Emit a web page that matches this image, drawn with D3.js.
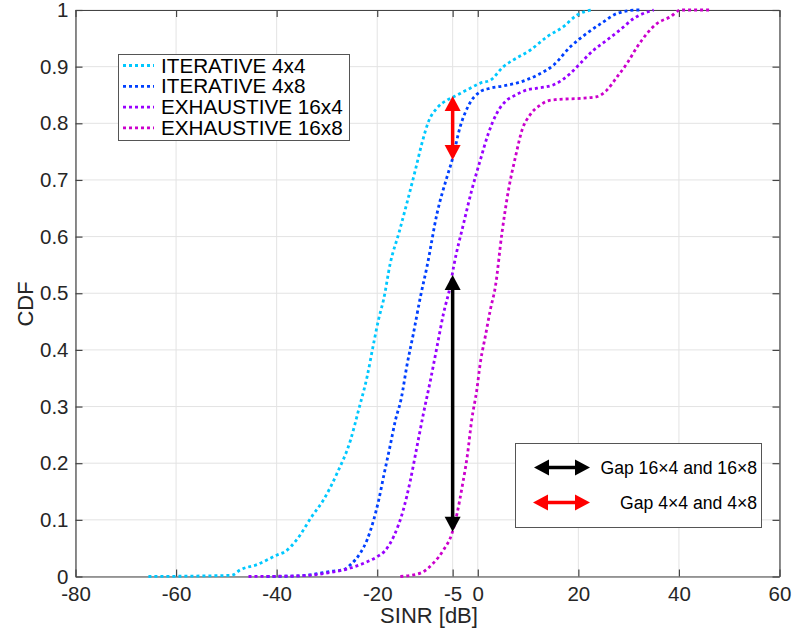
<!DOCTYPE html>
<html>
<head>
<meta charset="utf-8">
<script src="https://cdn.jsdelivr.net/npm/d3@7/dist/d3.min.js"></script>
<style>
  body { margin: 0; background: #fff; }
  svg { display: block; font-family: "Liberation Sans", Arial, Helvetica, sans-serif; }
</style>
</head>
<body>
<svg id="chart" width="794" height="634"></svg>
<script>
// Empirical CDFs of SINR [dB] for the four beam-search schemes
const iter4x4X = [-65.5, -49, -47.2, -43.9, -39.9, -38.3, -36, -33, -30.7, -28, -25.3, -23.7, -22, -20.7, -19.7, -18.7, -17.4, -15.7, -14.1, -12.4, -11.1, -9.8, -8.1, -6.1, -4.5, -2.8, -1.5, 0.5, 2.5, 5.1, 7.1, 10.4, 13.8, 17.1, 19.7, 22.7];
const iter4x4Y = [0, 0.002, 0.012, 0.021, 0.038, 0.044, 0.065, 0.106, 0.135, 0.182, 0.241, 0.294, 0.353, 0.412, 0.455, 0.49, 0.553, 0.606, 0.659, 0.718, 0.765, 0.803, 0.827, 0.841, 0.848, 0.856, 0.862, 0.871, 0.876, 0.9, 0.912, 0.929, 0.953, 0.971, 0.991, 1];

const iter4x8X = [-42, -36, -33.3, -29.3, -26.7, -25.3, -23.4, -22, -20.7, -19.7, -18.7, -17.4, -16.4, -15.2, -14.1, -12.8, -11.4, -10.1, -8.1, -6.1, -5.1, -3.5, -1.8, 0.5, 2.5, 5.1, 8.5, 11.8, 15.1, 18.4, 21.7, 25.0, 27.7, 31.7, 32.5];
const iter4x8Y = [0, 0.001, 0.003, 0.009, 0.012, 0.021, 0.041, 0.065, 0.1, 0.135, 0.178, 0.232, 0.275, 0.315, 0.372, 0.429, 0.494, 0.547, 0.641, 0.706, 0.735, 0.794, 0.832, 0.856, 0.862, 0.866, 0.873, 0.885, 0.903, 0.935, 0.959, 0.979, 0.994, 1, 1];

const exh16x4X = [-45.6, -36, -29.3, -25.3, -22, -20, -18.5, -16.7, -14.8, -13.4, -12.1, -10.8, -9.4, -8.1, -6.8, -5.5, -4.8, -2.8, -1.2, 0.5, 2.1, 3.8, 5.8, 7.1, 9.8, 11.8, 15.1, 18.4, 20.4, 23.0, 25.7, 28.3, 31.0, 35.0];
const exh16x4Y = [0, 0.001, 0.007, 0.015, 0.026, 0.035, 0.045, 0.071, 0.118, 0.17, 0.229, 0.288, 0.347, 0.406, 0.465, 0.512, 0.547, 0.624, 0.682, 0.735, 0.782, 0.818, 0.841, 0.848, 0.859, 0.862, 0.868, 0.888, 0.906, 0.929, 0.947, 0.965, 0.985, 1];

const exh16x8X = [-15.4, -11.4, -8.8, -6.8, -5.1, -4.1, -3.1, -2.1, -1.2, -0.2, 0.5, 1.5, 2.5, 3.5, 4.8, 6.1, 7.5, 8.8, 10.4, 12.4, 14.1, 15.7, 20.4, 23.7, 25.7, 27.7, 29.7, 31.7, 33.7, 35.6, 38.3, 40.3, 46.2];
const exh16x8Y = [0, 0.006, 0.024, 0.047, 0.077, 0.112, 0.159, 0.212, 0.277, 0.329, 0.377, 0.424, 0.471, 0.512, 0.606, 0.682, 0.741, 0.788, 0.815, 0.832, 0.84, 0.842, 0.844, 0.847, 0.859, 0.882, 0.906, 0.935, 0.959, 0.976, 0.988, 1, 1];

const seriesNames = ["ITERATIVE 4x4", "ITERATIVE 4x8", "EXHAUSTIVE 16x4", "EXHAUSTIVE 16x8"];
const seriesColors = ["#00c8ff", "#0040ff", "#9900ff", "#cc00cc"];
const seriesX = [iter4x4X, iter4x8X, exh16x4X, exh16x8X];
const seriesY = [iter4x4Y, iter4x8Y, exh16x4Y, exh16x8Y];

const xTicks = [-80, -60, -40, -20, -5, 0, 20, 40, 60];
const xTickLabels = ["-80", "-60", "-40", "-20", "-5", "0", "20", "40", "60"];
const yTicks = [0, 0.1, 0.2, 0.3, 0.4, 0.5, 0.6, 0.7, 0.8, 0.9, 1];
const yTickLabels = ["0", "0.1", "0.2", "0.3", "0.4", "0.5", "0.6", "0.7", "0.8", "0.9", "1"];

// Gap markers drawn at SINR = -5 dB, between the CDF values of each pair
const gapX = -5;
const gapIter = [0.735, 0.848];   // 4x8 -> 4x4
const gapExh = [0.079, 0.532];    // 16x8 -> 16x4
const gapLabels = ["Gap 16\u00d74 and 16\u00d78", "Gap 4\u00d74 and 4\u00d78"];

const svg = d3.select("#chart");
const plotL = 75.5, plotR = 779.5, plotT = 10, plotB = 576.5;

const x = d3.scaleLinear().domain([-80, 60]).range([plotL, plotR]);
const y = d3.scaleLinear().domain([0, 1]).range([plotB, plotT]);

const textColor = "#262626";
const axisColor = "#444";

// grid
const grid = svg.append("g");
grid.selectAll(".gx").data(xTicks).join("line")
  .attr("x1", d => x(d)).attr("x2", d => x(d))
  .attr("y1", plotT).attr("y2", plotB)
  .attr("stroke", "#e3e3e3").attr("stroke-width", 1);
grid.selectAll(".gy").data(yTicks).join("line")
  .attr("y1", d => y(d)).attr("y2", d => y(d))
  .attr("x1", plotL).attr("x2", plotR)
  .attr("stroke", "#e3e3e3").attr("stroke-width", 1);

// axes with inward ticks, mirrored on the opposite sides
const axB = d3.axisBottom(x).tickValues(xTicks).tickSizeInner(-7).tickSizeOuter(0).tickPadding(10)
  .tickFormat((d, i) => xTickLabels[i]);
const axT = d3.axisTop(x).tickValues(xTicks).tickSizeInner(-7).tickSizeOuter(0).tickFormat("");
const axL = d3.axisLeft(y).tickValues(yTicks).tickSizeInner(-7).tickSizeOuter(0).tickPadding(7)
  .tickFormat((d, i) => yTickLabels[i]);
const axR = d3.axisRight(y).tickValues(yTicks).tickSizeInner(-7).tickSizeOuter(0).tickFormat("");

function styleAxis(g) {
  g.select(".domain").attr("stroke", axisColor).attr("stroke-width", 1.2);
  g.selectAll(".tick line").attr("stroke", axisColor).attr("stroke-width", 1.2);
  g.selectAll(".tick text").attr("fill", textColor).style("font-size", "20.5px");
}
svg.append("g").attr("transform", `translate(0,${plotB})`).call(axB).call(styleAxis);
svg.append("g").attr("transform", `translate(0,${plotT})`).call(axT).call(styleAxis);
svg.append("g").attr("transform", `translate(${plotL},0)`).call(axL).call(styleAxis);
svg.append("g").attr("transform", `translate(${plotR},0)`).call(axR).call(styleAxis);

// axis labels
svg.append("text").attr("x", 429).attr("y", 623)
  .attr("text-anchor", "middle").attr("fill", textColor)
  .style("font-size", "22px").text("SINR [dB]");
svg.append("text").attr("transform", `translate(33,304) rotate(-90)`)
  .attr("text-anchor", "middle").attr("fill", textColor)
  .style("font-size", "22px").text("CDF");

// curves
const line = d3.line().x(d => x(d[0])).y(d => y(d[1])).curve(d3.curveMonotoneX);
seriesX.forEach((xs, i) => {
  const pts = xs.map((v, j) => [v, seriesY[i][j]]);
  svg.append("path").datum(pts)
    .attr("d", line)
    .attr("fill", "none")
    .attr("stroke", seriesColors[i])
    .attr("stroke-width", 2.8)
    .attr("stroke-dasharray", "3,3");
});

// double-headed arrow helper
function arrow(g, x1, y1, x2, y2, color, head, width, lw) {
  const dx = x2 - x1, dy = y2 - y1;
  const len = Math.hypot(dx, dy);
  const ux = dx / len, uy = dy / len;
  const px = -uy, py = ux;
  g.append("line")
    .attr("x1", x1 + ux * head * 0.8).attr("y1", y1 + uy * head * 0.8)
    .attr("x2", x2 - ux * head * 0.8).attr("y2", y2 - uy * head * 0.8)
    .attr("stroke", color).attr("stroke-width", lw);
  const tri = (tx, ty, sx, sy) => {
    const bx = tx + sx * head, by = ty + sy * head;
    return `M${tx},${ty}L${bx + px * width / 2},${by + py * width / 2}L${bx - px * width / 2},${by - py * width / 2}Z`;
  };
  g.append("path").attr("d", tri(x1, y1, ux, uy)).attr("fill", color);
  g.append("path").attr("d", tri(x2, y2, -ux, -uy)).attr("fill", color);
}

const arrows = svg.append("g");
arrow(arrows, x(gapX), y(gapIter[1]), x(gapX), y(gapIter[0]), "#ff0000", 15, 16, 3.5);
arrow(arrows, x(gapX), y(gapExh[1]), x(gapX), y(gapExh[0]), "#000000", 15, 16, 3.5);

// series legend
const leg = svg.append("g");
leg.append("rect").attr("x", 118.5).attr("y", 54.5).attr("width", 231).attr("height", 86)
  .attr("fill", "#fff").attr("stroke", "#555").attr("stroke-width", 1);
seriesNames.forEach((name, i) => {
  const cy = 65.5 + i * 20.8;
  leg.append("line").attr("x1", 123).attr("x2", 154).attr("y1", cy).attr("y2", cy)
    .attr("stroke", seriesColors[i]).attr("stroke-width", 2.8).attr("stroke-dasharray", "3,3");
  leg.append("text").attr("x", 161).attr("y", cy + 7).attr("fill", "#000")
    .style("font-size", "20.7px").text(name);
});

// gap legend
const leg2 = svg.append("g");
leg2.append("rect").attr("x", 515.5).attr("y", 443.5).attr("width", 246).attr("height", 84)
  .attr("fill", "#fff").attr("stroke", "#555").attr("stroke-width", 1);
arrow(leg2, 534, 467.5, 590, 467.5, "#000000", 15, 16, 3.5);
arrow(leg2, 533, 502.5, 590, 502.5, "#ff0000", 15, 16, 3.5);
leg2.append("text").attr("x", 757).attr("y", 474).attr("text-anchor", "end")
  .attr("fill", "#000").style("font-size", "17.6px").text(gapLabels[0]);
leg2.append("text").attr("x", 757).attr("y", 508.5).attr("text-anchor", "end")
  .attr("fill", "#000").style("font-size", "17.6px").text(gapLabels[1]);
</script>
</body>
</html>
